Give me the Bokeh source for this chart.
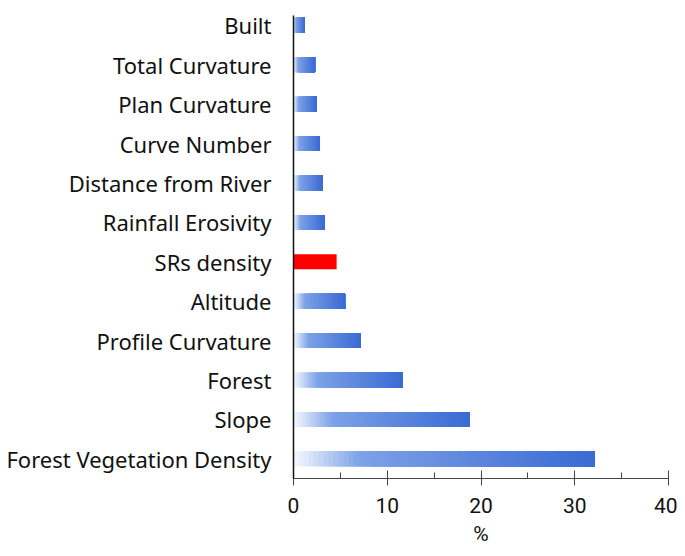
from bokeh.plotting import figure
from bokeh.models import Range1d, FixedTicker, SingleIntervalTicker, ColumnDataSource
from bokeh.embed import file_html
from bokeh.resources import INLINE

# Data (top to bottom as shown)
categories = ["Built", "Total Curvature", "Plan Curvature", "Curve Number",
              "Distance from River", "Rainfall Erosivity", "SRs density",
              "Altitude", "Profile Curvature", "Forest", "Slope",
              "Forest Vegetation Density"]
values = [1.2, 2.3, 2.5, 2.8, 3.1, 3.3, 4.6, 5.5, 7.2, 11.6, 18.8, 32.1]
highlight = "SRs density"

x_ticks_interval = 10

FONT = "Noto Sans"
XFONT = "Roboto"
TXT = "#111111"

def lerp(a, b, t):
    return tuple(int(round(a[i] + (b[i] - a[i]) * t)) for i in range(3))

def hexc(c):
    return "#%02x%02x%02x" % c

C0 = (246, 249, 255)
C1 = (125, 162, 231)
C2 = (58, 106, 212)

def grad(t):
    if t < 0.22:
        return hexc(lerp(C0, C1, t / 0.22))
    return hexc(lerp(C1, C2, (t - 0.22) / 0.78))

n = len(categories)
ypos = [n - 1 - i for i in range(n)]  # top item at highest position

p = figure(width=677, height=548, output_backend="svg", toolbar_location=None,
           x_range=Range1d(0, 40), y_range=Range1d(-0.5, n - 0.75),
           min_border_left=293, min_border_right=9, min_border_top=15,
           min_border_bottom=68)
p.outline_line_color = None
p.xgrid.visible = False
p.ygrid.visible = False

N = 60
lefts, rights, ys, colors = [], [], [], []
red_l, red_r, red_y = [], [], []
for cat, v, y in zip(categories, values, ypos):
    if cat == highlight:
        red_l.append(0); red_r.append(v); red_y.append(y)
        continue
    # overlapping slices: each runs to the bar end, later ones drawn on top
    for k in range(N):
        lefts.append(v * k / N)
        rights.append(v)
        ys.append(y)
        colors.append(grad((k + 0.5) / N))

src = ColumnDataSource(dict(left=lefts, right=rights, y=ys, color=colors))
p.hbar(y="y", left="left", right="right", height=0.38, fill_color="color",
       line_color=None, source=src)
p.hbar(y=red_y, left=red_l, right=red_r, height=0.38, fill_color="#ff0000",
       line_color=None)

# Y axis
ya = p.yaxis[0]
ya.ticker = FixedTicker(ticks=ypos)
ya.major_label_overrides = {y: c for y, c in zip(ypos, categories)}
ya.major_tick_line_color = None
ya.minor_tick_line_color = None
ya.axis_line_color = "#111111"
ya.axis_line_width = 1.5
ya.major_label_text_font = FONT
ya.major_label_text_font_size = "22px"
ya.major_label_text_color = TXT
ya.major_label_standoff = 16

# X axis
xa = p.xaxis[0]
xa.ticker = SingleIntervalTicker(interval=x_ticks_interval, num_minor_ticks=2)
xa.axis_line_color = "#444444"
xa.axis_line_width = 1.2
xa.major_tick_line_color = "#444444"
xa.minor_tick_line_color = "#444444"
xa.major_tick_in = 8
xa.major_tick_out = 7
xa.minor_tick_in = 6
xa.minor_tick_out = 0
xa.major_label_text_font = XFONT
xa.major_label_text_font_size = "21px"
xa.major_label_text_color = TXT
xa.major_label_standoff = 12
xa.axis_label = "%"
xa.axis_label_text_font = XFONT
xa.axis_label_text_font_size = "21px"
xa.axis_label_text_font_style = "normal"
xa.axis_label_text_color = TXT
xa.axis_label_standoff = 6

open("out.html", "w").write(file_html(p, INLINE))
